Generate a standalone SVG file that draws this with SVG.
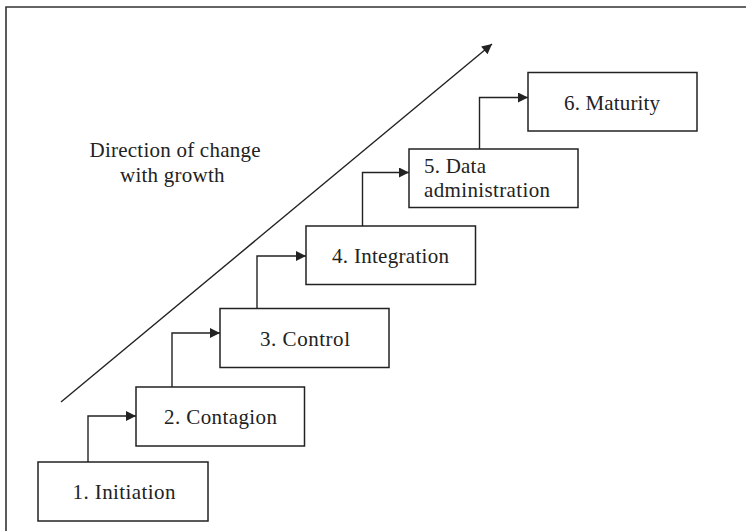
<svg xmlns="http://www.w3.org/2000/svg" width="746" height="531" viewBox="0 0 746 531">
  <style>
    .frame { fill: none; stroke: #333; stroke-width: 1.6; }
    .box { fill: #fff; stroke: #222; stroke-width: 1.5; }
    .link { fill: none; stroke: #222; stroke-width: 1.4; }
    .lbl { font-family: 'Liberation Serif', serif; font-size: 21px; fill: #222; }
  </style>
  <defs>
    <marker id="head" viewBox="0 0 10 10" refX="10" refY="5" markerWidth="11" markerHeight="10" markerUnits="userSpaceOnUse" orient="auto">
      <path d="M0,0 L10,5 L0,10 Z" fill="#222"/>
    </marker>
  </defs>

  <!-- outer frame (open to the right and bottom) -->
  <path class="frame" d="M6,531 V7 H746"/>

  <!-- connectors -->
  <g id="connectors">
    <line class="link" x1="61" y1="402" x2="492" y2="44" marker-end="url(#head)"/>
    <path class="link" d="M88,462 V416 H136" marker-end="url(#head)"/>
    <path class="link" d="M172,387 V333 H220" marker-end="url(#head)"/>
    <path class="link" d="M257,308.5 V256 H306" marker-end="url(#head)"/>
    <path class="link" d="M362.5,226 V172.5 H409" marker-end="url(#head)"/>
    <path class="link" d="M479.5,149 V97.5 H528" marker-end="url(#head)"/>
  </g>

  <text class="lbl" x="89.5" y="157" textLength="171">Direction of change</text>
  <text class="lbl" x="120" y="182" textLength="104.5">with growth</text>

  <g id="initiation">
    <rect class="box" x="38" y="462" width="170" height="59"/>
    <text class="lbl" x="72.5" y="498.5" textLength="103">1. Initiation</text>
  </g>
  <g id="contagion">
    <rect class="box" x="136" y="387" width="168.5" height="59"/>
    <text class="lbl" x="164" y="424" textLength="113">2. Contagion</text>
  </g>
  <g id="control">
    <rect class="box" x="220" y="308.5" width="169" height="59"/>
    <text class="lbl" x="260" y="345.5" textLength="90">3. Control</text>
  </g>
  <g id="integration">
    <rect class="box" x="306" y="226" width="169.5" height="58.5"/>
    <text class="lbl" x="332" y="262.5" textLength="117">4. Integration</text>
  </g>
  <g id="data-administration">
    <rect class="box" x="409" y="149" width="169" height="58.5"/>
    <text class="lbl" x="424" y="173" textLength="62">5. Data</text>
    <text class="lbl" x="424" y="197" textLength="126">administration</text>
  </g>
  <g id="maturity">
    <rect class="box" x="528" y="72.5" width="169" height="58.5"/>
    <text class="lbl" x="564" y="110" textLength="96">6. Maturity</text>
  </g>
</svg>
